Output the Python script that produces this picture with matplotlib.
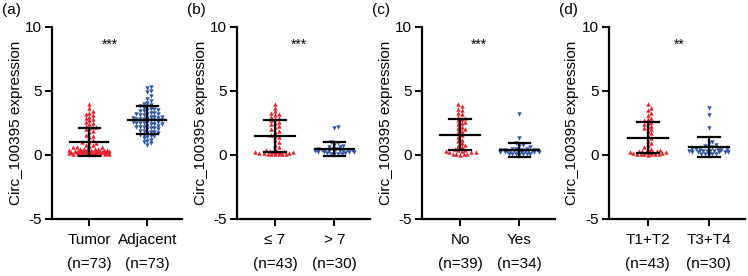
"""
Circ_100395: espressione per gruppo clinico, quattro pannelli scatter dot plot
con media +- SD (stile GraphPad).
"""
import numpy as np
import matplotlib.pyplot as plt

plt.rcParams["font.family"] = ["Liberation Sans", "DejaVu Sans"]

# ---------------------------------------------------------------- dati
PANNELLI = ["(a)", "(b)", "(c)", "(d)"]
CATEGORIE = [["Tumor", "Adjacent"], ["≤ 7", "> 7"], ["No", "Yes"], ["T1+T2", "T3+T4"]]
NUMEROSITA = [["n=73", "n=73"], ["n=43", "n=30"], ["n=39", "n=34"], ["n=43", "n=30"]]
SIGNIFICATIVITA = ["***", "***", "***", "**"]
POS_STELLE = [0.36, 0.41, 0.32, 0.52]

gleason_basso = [4.0, 3.7, 3.4, 3.3, 3.2, 3.1, 3.0, 2.9, 2.8, 2.7, 2.6, 2.5, 2.4, 2.3,
                 2.2, 2.0, 1.9, 1.8, 1.6, 1.5, 1.4, 1.2, 1.0, 0.8, 0.6, 0.5, 0.4, 0.3,
                 0.25, 0.2, 0.2, 0.15, 0.15, 0.15, 0.1, 0.1, 0.1, 0.1, 0.05, 0.05, 0.3, 0.25, 0.2]
gleason_alto = [2.2, 2.1, 1.0, 0.9, 0.8, 0.7, 0.6, 0.6, 0.5, 0.5, 0.5, 0.4, 0.4, 0.4, 0.4,
                0.3, 0.3, 0.3, 0.3, 0.3, 0.2, 0.2, 0.2, 0.2, 0.15, 0.15, 0.1, 0.1, 0.1, 0.05]
tumore = gleason_basso + gleason_alto
adiacente = [5.3, 5.2, 5.0, 4.9, 4.6, 4.4, 4.2, 4.0, 3.9, 3.8, 3.8, 3.7, 3.6, 3.6, 3.5,
             3.5, 3.4, 3.3, 3.3, 3.2, 3.2, 3.1, 3.1, 3.0, 3.0, 2.9, 2.9, 2.8, 2.8, 2.7,
             2.7, 2.6, 2.6, 2.6, 2.5, 2.5, 2.4, 2.4, 2.3, 2.3, 2.2, 2.2, 2.1, 2.1, 2.0,
             2.0, 1.9, 1.9, 1.8, 1.8, 1.7, 1.7, 1.6, 1.6, 1.5, 1.5, 1.4, 1.3, 1.2, 1.1,
             1.0, 0.9, 0.8, 3.0, 2.8, 2.5, 2.4, 2.9, 3.2, 2.7, 2.2, 3.4, 4.1]
metastasi_no = [4.0, 3.8, 3.6, 3.5, 3.3, 3.2, 3.0, 2.9, 2.8, 2.7, 2.6, 2.5, 2.4, 2.2, 2.1,
                2.0, 1.9, 1.8, 1.6, 1.4, 1.2, 1.1, 0.9, 0.8, 0.7, 0.6, 0.5, 0.4, 0.4, 0.3,
                0.3, 0.2, 0.2, 0.2, 0.1, 0.1, 0.1, 0.05, 0.02]
metastasi_si = [3.2, 1.3, 0.9, 0.8, 0.7, 0.6, 0.5, 0.5, 0.5, 0.4, 0.4, 0.4, 0.4, 0.4, 0.4,
                0.3, 0.3, 0.3, 0.3, 0.3, 0.3, 0.2, 0.2, 0.2, 0.2, 0.2, 0.2, 0.1, 0.1, 0.1,
                0.1, 0.1, 0.05, 0.02]
stadio_t12 = [4.0, 3.7, 3.5, 3.3, 3.1, 2.9, 2.8, 2.7, 2.6, 2.5, 2.4, 2.3, 2.2, 2.1, 2.0,
              1.9, 1.7, 1.5, 1.3, 1.1, 0.9, 0.8, 0.6, 0.5, 0.5, 0.4, 0.3, 0.3, 0.25, 0.2,
              0.2, 0.2, 0.15, 0.15, 0.1, 0.1, 0.1, 0.05, 0.05, 0.3, 0.2, 0.1, 0.0]
stadio_t34 = [3.7, 3.1, 2.1, 1.0, 0.9, 0.8, 0.7, 0.6, 0.6, 0.5, 0.5, 0.4, 0.4, 0.4, 0.4,
              0.3, 0.3, 0.3, 0.3, 0.3, 0.2, 0.2, 0.2, 0.2, 0.2, 0.1, 0.1, 0.1, 0.1, 0.1]

GRUPPI = [[tumore, adiacente], [gleason_basso, gleason_alto],
          [metastasi_no, metastasi_si], [stadio_t12, stadio_t34]]

MEDIE = [[1.0, 2.75], [1.45, 0.47], [1.6, 0.4], [1.35, 0.62]]
SD = [[1.1, 1.1], [1.25, 0.55], [1.2, 0.55], [1.2, 0.8]]

ROSSO = "#e8202a"
BLU = "#2d55a0"

# ---------------------------------------------------------------- layout
W, H = 748, 276
ASSI_X = [(52, 182), (237, 370), (422, 555), (609, 745)]
ASSE_TOP, ASSE_BOT = 27, 219
XLIM = (-0.64, 1.6)
YLIM = (-5, 10)


def sciame(valori, px_x, px_y, diam=3.6, larghezza_max=21):
    """Offset orizzontali (in unita' dati) tipo beeswarm, niente casualita'."""
    ordine = np.argsort(valori)
    piazzati = []
    offs = np.zeros(len(valori))
    for i in ordine:
        y = valori[i] * px_y
        candidati = [0.0]
        k = 1
        while k * diam * 0.5 <= larghezza_max:
            candidati += [k * diam * 0.5, -k * diam * 0.5]
            k += 1
        scelto, peggio = None, None
        for c in candidati:
            d = min([np.hypot(c - px, y - py) for px, py in piazzati] or [99])
            if d >= diam:
                scelto = c
                break
            if peggio is None or d > peggio[1]:
                peggio = (c, d)
        if scelto is None:
            scelto = peggio[0]
        piazzati.append((scelto, y))
        offs[i] = scelto / px_x
    return offs


fig = plt.figure(figsize=(W / 100, H / 100), dpi=100)

for p, (x0, x1) in enumerate(ASSI_X):
    ax = fig.add_axes([x0 / W, 1 - ASSE_BOT / H, (x1 - x0) / W, (ASSE_BOT - ASSE_TOP) / H])
    px_x = (x1 - x0) / (XLIM[1] - XLIM[0])
    px_y = (ASSE_BOT - ASSE_TOP) / (YLIM[1] - YLIM[0])

    for g, (valori, colore, marker) in enumerate(zip(GRUPPI[p], [ROSSO, BLU], ["^", "v"])):
        valori = np.asarray(valori, dtype=float)
        xs = g + sciame(valori, px_x, px_y)
        ax.scatter(xs, valori, s=10, marker=marker, color=colore, linewidths=0, zorder=2)

        m, s = MEDIE[p][g], SD[p][g]
        ax.plot([g - 0.33, g + 0.33], [m, m], color="black", lw=1.6, zorder=3)
        ax.plot([g, g], [m - s, m + s], color="black", lw=1.6, zorder=3)
        for yy in (m - s, m + s):
            ax.plot([g - 0.18, g + 0.18], [yy, yy], color="black", lw=1.6, zorder=3)

    ax.text(POS_STELLE[p], 8.6, SIGNIFICATIVITA[p], ha="center", va="center", fontsize=10)

    ax.set_xlim(*XLIM)
    ax.set_ylim(*YLIM)
    ax.set_yticks([-5, 0, 5, 10])
    ax.set_yticklabels(["-5", "0", "5", "10"])
    ax.set_xticks([0, 1])
    ax.set_xticklabels([f"{c}\n({n})" for c, n in zip(CATEGORIE[p], NUMEROSITA[p])],
                       linespacing=1.95)
    ax.tick_params(axis="both", direction="out", length=5, width=1.4, labelsize=11, pad=2)
    ax.tick_params(axis="x", pad=5)
    for lato in ("top", "right"):
        ax.spines[lato].set_visible(False)
    for lato in ("left", "bottom"):
        ax.spines[lato].set_linewidth(1.6)
    ax.set_ylabel("Circ_100395 expression", fontsize=11)
    ax.yaxis.set_label_coords(-0.22, 0.5)

    fig.text((x0 - 50) / W, 1 - 3 / H, PANNELLI[p], ha="left", va="top", fontsize=11)

fig.savefig("out.png", dpi=100)
